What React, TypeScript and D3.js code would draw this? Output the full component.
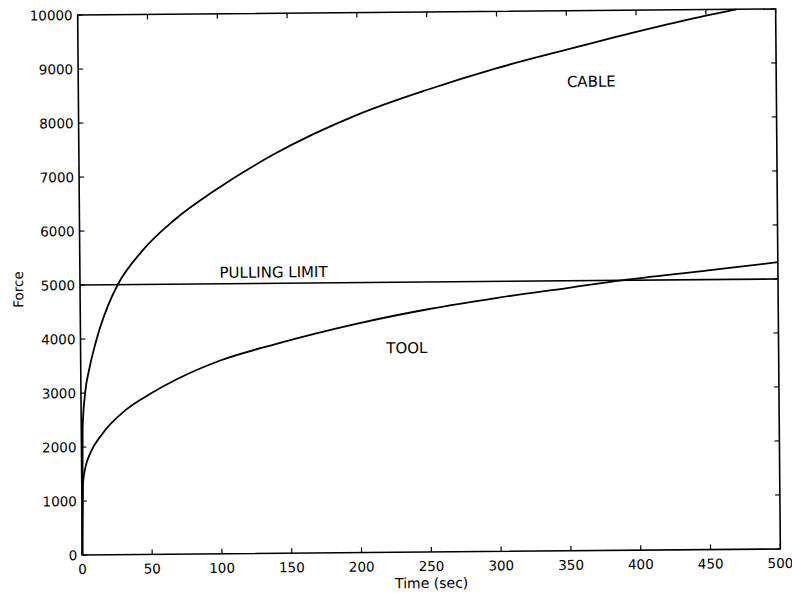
import React from "react";
import * as d3 from "d3";

// values
const timeCable = [0, 1, 3, 6, 10, 14, 20, 27, 44, 68, 96, 139, 200, 250, 300, 350, 400, 450, 472];
const forceCable = [0, 2350, 3000, 3430, 3850, 4200, 4620, 5000, 5600, 6190, 6710, 7380, 8110, 8560, 8950, 9280, 9600, 9890, 10000];
const timeTool = [0, 1, 3, 6, 15, 32, 50, 68, 100, 139, 200, 250, 300, 350, 388, 450, 500];
const forceTool = [0, 1350, 1650, 1870, 2240, 2680, 2980, 3230, 3580, 3870, 4250, 4500, 4700, 4870, 5000, 5170, 5310];
const pullingLimit = 5000;
const xTicks = [0, 50, 100, 150, 200, 250, 300, 350, 400, 450, 500];
const yTicks = [0, 1000, 2000, 3000, 4000, 5000, 6000, 7000, 8000, 9000, 10000];

const W = 792;
const H = 596;
const left = 80;
const right = 778;
const top = 12;
const bottom = 552;
const font = "DejaVu Sans, Arial, sans-serif";

export default function App() {
  const x = d3.scaleLinear().domain([0, 500]).range([left, right]);
  const y = d3.scaleLinear().domain([0, 10000]).range([bottom, top]);
  const line = d3
    .line<[number, number]>()
    .x((d) => x(d[0]))
    .y((d) => y(d[1]))
    .curve(d3.curveMonotoneX);

  const cable = timeCable.map((t, i) => [t, forceCable[i]] as [number, number]);
  const tool = timeTool.map((t, i) => [t, forceTool[i]] as [number, number]);
  const tick = 5;
  const cx = (left + right) / 2;
  const cy = (top + bottom) / 2;

  return (
    <svg width={W} height={H} style={{ position: "absolute", left: 0, top: 0, background: "#fff" }}>
      {/* the scan is tilted by about half a degree */}
      <g transform={`rotate(-0.5 ${cx} ${cy})`} fontFamily={font} fill="#000">
        <rect x={left} y={top} width={right - left} height={bottom - top} fill="none" stroke="#000" strokeWidth={1.6} />
        {xTicks.map((t) => (
          <g key={"x" + t}>
            <line x1={x(t)} x2={x(t)} y1={bottom} y2={bottom - tick} stroke="#000" strokeWidth={1.2} />
            <line x1={x(t)} x2={x(t)} y1={top} y2={top + tick} stroke="#000" strokeWidth={1.2} />
            <text x={x(t)} y={bottom + 19} fontSize={13.5} textAnchor="middle">{t}</text>
          </g>
        ))}
        {yTicks.map((t) => (
          <g key={"y" + t}>
            <line x1={left} x2={left + tick} y1={y(t)} y2={y(t)} stroke="#000" strokeWidth={1.2} />
            <line x1={right} x2={right - tick} y1={y(t)} y2={y(t)} stroke="#000" strokeWidth={1.2} />
            <text x={left - 5} y={y(t) + 5} fontSize={13.5} textAnchor="end">{t}</text>
          </g>
        ))}
        <line x1={x(0)} x2={x(500)} y1={y(pullingLimit)} y2={y(pullingLimit)} stroke="#000" strokeWidth={1.6} />
        <path d={line(cable) || ""} fill="none" stroke="#000" strokeWidth={1.8} />
        <path d={line(tool) || ""} fill="none" stroke="#000" strokeWidth={1.8} />
        <text x={x(100)} y={y(5110)} fontSize={15}>PULLING LIMIT</text>
        <text x={x(350)} y={y(8590)} fontSize={15}>CABLE</text>
        <text x={x(219)} y={y(3685)} fontSize={15}>TOOL</text>
        <text x={cx} y={bottom + 36} fontSize={14} textAnchor="middle">Time (sec)</text>
        <text transform={`translate(${left - 57} ${cy + 4}) rotate(-90)`} fontSize={13.5} textAnchor="middle">Force</text>
      </g>
    </svg>
  );
}
